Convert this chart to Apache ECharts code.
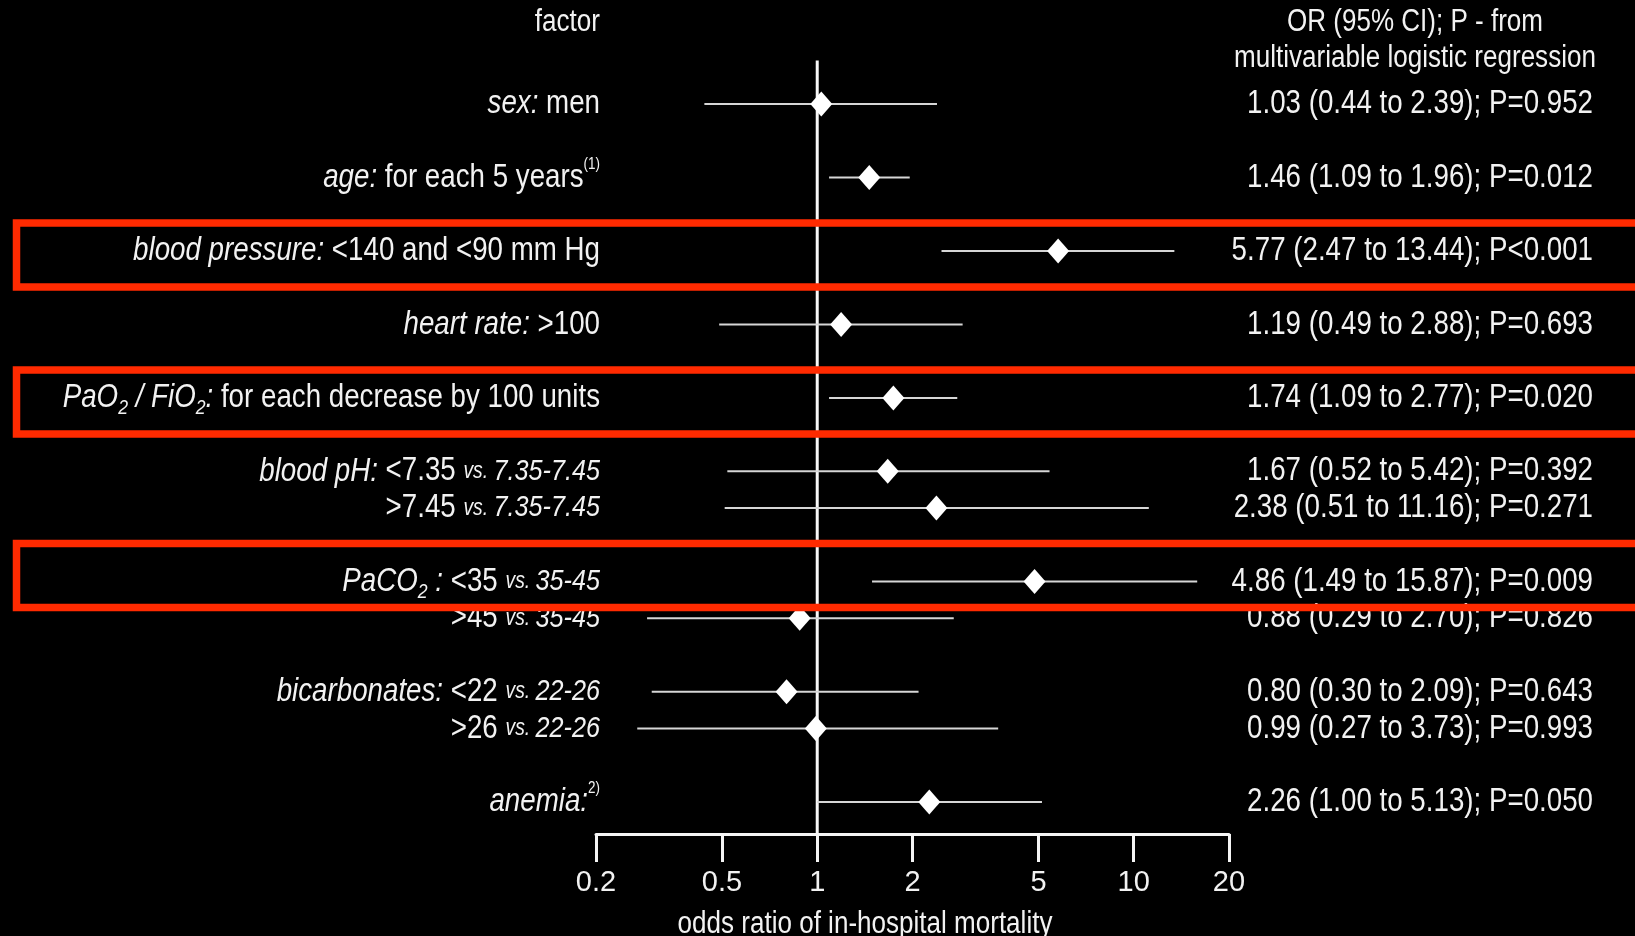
<!DOCTYPE html>
<html>
<head>
<meta charset="utf-8">
<script src="https://cdn.jsdelivr.net/npm/echarts@6/dist/echarts.min.js"></script>
<style>
  html, body { margin: 0; padding: 0; background: #000; }
  #chart { width: 1635px; height: 936px; }
</style>
</head>
<body>
<div id="chart"></div>
<script>
// ---------- data ----------
const factorNames = ['sex:', 'age:', 'blood pressure:', 'heart rate:', 'PaO_2 / FiO_2:', 'blood pH:', '', 'PaCO_2 :', '', 'bicarbonates:', '', 'anemia:'];
const factorLevels = ['men', 'for each 5 years', '<140 and <90 mm Hg', '>100', 'for each decrease by 100 units', '<7.35', '>7.45', '<35', '>45', '<22', '>26', ''];
const referenceLevels = ['', '', '', '', '', '7.35-7.45', '7.35-7.45', '35-45', '35-45', '22-26', '22-26', ''];
const footnotes = ['', '(1)', '', '', '', '', '', '', '', '', '', '2)'];
const oddsRatio = [1.03, 1.46, 5.77, 1.19, 1.74, 1.67, 2.38, 4.86, 0.88, 0.80, 0.99, 2.26];
const ciLow = [0.44, 1.09, 2.47, 0.49, 1.09, 0.52, 0.51, 1.49, 0.29, 0.30, 0.27, 1.00];
const ciHigh = [2.39, 1.96, 13.44, 2.88, 2.77, 5.42, 11.16, 15.87, 2.70, 2.09, 3.73, 5.13];
const pValues = ['=0.952', '=0.012', '<0.001', '=0.693', '=0.020', '=0.392', '=0.271', '=0.009', '=0.826', '=0.643', '=0.993', '=0.050'];
const highlightedRows = [2, 4, 7];
const xTickValues = [0.2, 0.5, 1, 2, 5, 10, 20];
const leftHeader = 'factor';
const rightHeader = ['OR (95% CI); P - from', 'multivariable logistic regression'];
const xAxisTitle = 'odds ratio of in-hospital mortality';

// ---------- structure: each new factor starts after a blank slot ----------
const rowSlot = [];
let s = 0;
factorNames.forEach((n, i) => { if (i > 0) s += n ? 2 : 1; rowSlot.push(s); });
const slotCount = s + 1;
const slotIds = Array.from({length: slotCount}, (_, i) => 'slot' + i);
const occupied = new Set(rowSlot);

const FONT = "'Liberation Sans', Arial, sans-serif";
const TXT = '#f2f2f2';
const NARROW = 0.84; // condensed look

const RICH = {
  it: {fontStyle: 'italic', fontSize: 33, lineHeight: 42, fill: TXT, fontFamily: FONT},
  n: {fontSize: 33, lineHeight: 42, fill: TXT, fontFamily: FONT},
  sub: {fontStyle: 'italic', fontSize: 21, lineHeight: 23, verticalAlign: 'bottom', fill: TXT, fontFamily: FONT},
  vs: {fontStyle: 'italic', fontSize: 23, lineHeight: 42, fill: TXT, fontFamily: FONT},
  ref: {fontStyle: 'italic', fontSize: 30, lineHeight: 42, fill: TXT, fontFamily: FONT},
  sup: {fontSize: 16, lineHeight: 30, verticalAlign: 'top', fill: TXT, fontFamily: FONT}
};

function leftLabel(i) {
  let out = '';
  const name = factorNames[i];
  if (name) {
    const parts = name.split('_2');
    parts.forEach((p, k) => {
      if (p) out += '{it|' + p + '}';
      if (k < parts.length - 1) out += '{sub|2}';
    });
    if (factorLevels[i]) out += '{n| }';
  }
  if (factorLevels[i]) out += '{n|' + factorLevels[i] + '}';
  if (referenceLevels[i]) out += '{n| }{vs|vs. }{ref|' + referenceLevels[i] + '}';
  if (footnotes[i]) out += '{sup|' + footnotes[i] + '}';
  return out;
}
function rightLabel(i) {
  return oddsRatio[i].toFixed(2) + ' (' + ciLow[i].toFixed(2) + ' to ' + ciHigh[i].toFixed(2) + '); P' + pValues[i];
}

const chart = echarts.init(document.getElementById('chart'), null, {renderer: 'canvas'});
const option = {
  backgroundColor: '#000',
  animation: false,
  textStyle: {fontFamily: FONT, color: TXT},
  grid: {left: 596, right: 406, top: 85.6, bottom: 115.6, containLabel: false, outerBoundsMode: 'none'},
  xAxis: {
    type: 'log', logBase: 10, min: 0.2, max: 20, offset: 13.5,
    axisLine: {show: true, lineStyle: {color: '#f5f5f5', width: 3}},
    axisTick: {show: true, customValues: xTickValues, length: 28, lineStyle: {color: '#f5f5f5', width: 3}},
    minorTick: {show: false},
    splitLine: {show: false},
    axisLabel: {customValues: xTickValues, margin: 35, fontSize: 29, color: TXT, fontFamily: FONT,
      formatter: v => String(v)}
  },
  yAxis: {
    type: 'category', data: slotIds, inverse: true,
    axisLine: {show: false}, axisTick: {show: false}, splitLine: {show: false},
    axisLabel: {show: false}
  },
  graphic: [
    {type: 'text', x: 600, y: 22, scaleX: NARROW, style: {text: leftHeader, fill: TXT, font: '31px ' + FONT, textAlign: 'right', textVerticalAlign: 'middle'}},
    {type: 'text', x: 1415, y: 22, scaleX: NARROW, style: {text: rightHeader[0], fill: TXT, font: '31px ' + FONT, textAlign: 'center', textVerticalAlign: 'middle'}},
    {type: 'text', x: 1415, y: 58, scaleX: NARROW, style: {text: rightHeader[1], fill: TXT, font: '31px ' + FONT, textAlign: 'center', textVerticalAlign: 'middle'}},
    {type: 'text', x: 865, y: 924, scaleX: NARROW, style: {text: xAxisTitle, fill: TXT, font: '31px ' + FONT, textAlign: 'center', textVerticalAlign: 'middle'}}
  ],
  series: [
    {
      type: 'custom', name: 'reference', clip: false, silent: true, z: 2,
      data: [[1, 0]],
      renderItem: (params, api) => {
        const x = api.coord([api.value(0), 0])[0];
        const cs = params.coordSys;
        return {type: 'line', shape: {x1: x, y1: cs.y - 25, x2: x, y2: cs.y + cs.height + 14},
          style: {stroke: '#f8f8f8', lineWidth: 3}};
      }
    },
    {
      type: 'custom', name: 'ci', clip: false, silent: true, z: 3,
      encode: {x: [0, 1], y: 2},
      data: oddsRatio.map((_, i) => [ciLow[i], ciHigh[i], rowSlot[i]]),
      renderItem: (params, api) => {
        const a = api.coord([api.value(0), api.value(2)]);
        const b = api.coord([api.value(1), api.value(2)]);
        return {type: 'line', shape: {x1: a[0], y1: a[1], x2: b[0], y2: b[1]},
          style: {stroke: '#d6d6d6', lineWidth: 2}};
      }
    },
    {
      type: 'scatter', name: 'OR', z: 4, symbol: 'diamond', symbolSize: [22, 25],
      itemStyle: {color: '#ffffff', opacity: 1},
      data: oddsRatio.map((v, i) => [v, rowSlot[i]])
    },
    {
      type: 'custom', name: 'labels', clip: false, silent: true, z: 5,
      encode: {x: 0, y: 1},
      data: oddsRatio.map((v, i) => [1, rowSlot[i], i]),
      renderItem: (params, api) => {
        const i = api.value(2);
        const y = api.coord([1, api.value(1)])[1];
        const cs = params.coordSys;
        return {type: 'group', children: [
          {type: 'text', x: cs.x + 4, y: y, scaleX: NARROW,
            style: {text: leftLabel(i), rich: RICH, fill: TXT, fontSize: 33, fontFamily: FONT,
              align: 'right', verticalAlign: 'middle'}},
          {type: 'text', x: cs.x + cs.width + 364, y: y, scaleX: NARROW,
            style: {text: rightLabel(i), fill: TXT, fontSize: 33, fontFamily: FONT,
              align: 'right', verticalAlign: 'middle'}}
        ]};
      }
    },
    {
      type: 'custom', name: 'highlight', clip: false, silent: true, z: 10,
      data: highlightedRows.map(i => [1, rowSlot[i]]),
      renderItem: (params, api) => {
        const slot = api.value(1);
        const y = api.coord([1, slot])[1];
        // the box shifts up when a sub-row sits directly below
        const shift = occupied.has(slot + 1) ? -6 : 4;
        return {type: 'rect', shape: {x: 16.5, y: y + shift - 32, width: 1700, height: 64},
          style: {stroke: '#ff2a00', fill: null, lineWidth: 7.5}};
      }
    }
  ]
};
chart.setOption(option);
</script>
</body>
</html>
